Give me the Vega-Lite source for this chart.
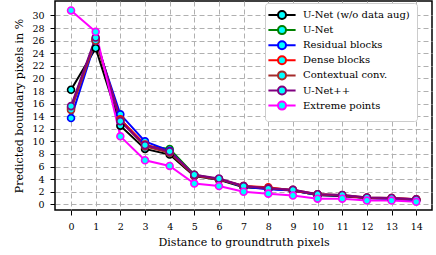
{
  "$schema": "https://vega.github.io/schema/vega-lite/v6.json",
  "width": 377,
  "height": 209,
  "autosize": {"type": "none"},
  "padding": {"left": 55, "top": 1, "right": 4, "bottom": 45},
  "config": {
    "font": "DejaVu Serif",
    "view": {"stroke": "black", "strokeWidth": 1.5},
    "axis": {
      "labelFont": "DejaVu Serif", "titleFont": "DejaVu Serif",
      "labelFontSize": 9.5, "titleFontSize": 11, "titleFontWeight": "normal",
      "labelColor": "black", "titleColor": "black",
      "grid": true, "gridColor": "#b0b0b0", "gridDash": [5, 3], "gridWidth": 1,
      "ticks": true, "tickSize": 5, "tickColor": "black", "tickWidth": 1, "domain": false
    },
    "legend": {"labelFont": "DejaVu Serif", "labelFontSize": 10, "labelColor": "black"}
  },
  "data": {"values": [
    {"d":0,"s":"U-Net (w/o data aug)","v":18.2},{"d":1,"s":"U-Net (w/o data aug)","v":24.8},{"d":2,"s":"U-Net (w/o data aug)","v":12.5},{"d":3,"s":"U-Net (w/o data aug)","v":8.8},{"d":4,"s":"U-Net (w/o data aug)","v":7.9},{"d":5,"s":"U-Net (w/o data aug)","v":4.5},{"d":6,"s":"U-Net (w/o data aug)","v":3.9},{"d":7,"s":"U-Net (w/o data aug)","v":2.7},{"d":8,"s":"U-Net (w/o data aug)","v":2.5},{"d":9,"s":"U-Net (w/o data aug)","v":2.2},{"d":10,"s":"U-Net (w/o data aug)","v":1.5},{"d":11,"s":"U-Net (w/o data aug)","v":1.3},{"d":12,"s":"U-Net (w/o data aug)","v":1.0},{"d":13,"s":"U-Net (w/o data aug)","v":0.9},{"d":14,"s":"U-Net (w/o data aug)","v":0.7},
    {"d":0,"s":"U-Net","v":15.4},{"d":1,"s":"U-Net","v":26.3},{"d":2,"s":"U-Net","v":13.5},{"d":3,"s":"U-Net","v":9.3},{"d":4,"s":"U-Net","v":8.8},{"d":5,"s":"U-Net","v":4.7},{"d":6,"s":"U-Net","v":4.0},{"d":7,"s":"U-Net","v":2.8},{"d":8,"s":"U-Net","v":2.5},{"d":9,"s":"U-Net","v":2.2},{"d":10,"s":"U-Net","v":1.5},{"d":11,"s":"U-Net","v":1.4},{"d":12,"s":"U-Net","v":1.0},{"d":13,"s":"U-Net","v":0.9},{"d":14,"s":"U-Net","v":0.7},
    {"d":0,"s":"Residual blocks","v":13.7},{"d":1,"s":"Residual blocks","v":26.0},{"d":2,"s":"Residual blocks","v":14.3},{"d":3,"s":"Residual blocks","v":10.0},{"d":4,"s":"Residual blocks","v":8.5},{"d":5,"s":"Residual blocks","v":4.6},{"d":6,"s":"Residual blocks","v":4.0},{"d":7,"s":"Residual blocks","v":2.8},{"d":8,"s":"Residual blocks","v":2.4},{"d":9,"s":"Residual blocks","v":2.2},{"d":10,"s":"Residual blocks","v":1.5},{"d":11,"s":"Residual blocks","v":1.4},{"d":12,"s":"Residual blocks","v":1.0},{"d":13,"s":"Residual blocks","v":0.9},{"d":14,"s":"Residual blocks","v":0.7},
    {"d":0,"s":"Dense blocks","v":15.2},{"d":1,"s":"Dense blocks","v":26.2},{"d":2,"s":"Dense blocks","v":13.5},{"d":3,"s":"Dense blocks","v":9.5},{"d":4,"s":"Dense blocks","v":8.3},{"d":5,"s":"Dense blocks","v":4.6},{"d":6,"s":"Dense blocks","v":4.0},{"d":7,"s":"Dense blocks","v":2.9},{"d":8,"s":"Dense blocks","v":2.7},{"d":9,"s":"Dense blocks","v":2.2},{"d":10,"s":"Dense blocks","v":1.6},{"d":11,"s":"Dense blocks","v":1.4},{"d":12,"s":"Dense blocks","v":1.0},{"d":13,"s":"Dense blocks","v":1.0},{"d":14,"s":"Dense blocks","v":0.8},
    {"d":0,"s":"Contextual conv.","v":15.0},{"d":1,"s":"Contextual conv.","v":26.0},{"d":2,"s":"Contextual conv.","v":13.3},{"d":3,"s":"Contextual conv.","v":9.2},{"d":4,"s":"Contextual conv.","v":8.2},{"d":5,"s":"Contextual conv.","v":4.6},{"d":6,"s":"Contextual conv.","v":4.0},{"d":7,"s":"Contextual conv.","v":2.9},{"d":8,"s":"Contextual conv.","v":2.6},{"d":9,"s":"Contextual conv.","v":2.3},{"d":10,"s":"Contextual conv.","v":1.6},{"d":11,"s":"Contextual conv.","v":1.5},{"d":12,"s":"Contextual conv.","v":1.1},{"d":13,"s":"Contextual conv.","v":1.0},{"d":14,"s":"Contextual conv.","v":0.8},
    {"d":0,"s":"U-Net++","v":15.6},{"d":1,"s":"U-Net++","v":26.5},{"d":2,"s":"U-Net++","v":13.2},{"d":3,"s":"U-Net++","v":9.4},{"d":4,"s":"U-Net++","v":8.4},{"d":5,"s":"U-Net++","v":4.7},{"d":6,"s":"U-Net++","v":4.1},{"d":7,"s":"U-Net++","v":2.9},{"d":8,"s":"U-Net++","v":2.5},{"d":9,"s":"U-Net++","v":2.3},{"d":10,"s":"U-Net++","v":1.6},{"d":11,"s":"U-Net++","v":1.5},{"d":12,"s":"U-Net++","v":1.1},{"d":13,"s":"U-Net++","v":1.0},{"d":14,"s":"U-Net++","v":0.8},
    {"d":0,"s":"Extreme points","v":30.8},{"d":1,"s":"Extreme points","v":27.4},{"d":2,"s":"Extreme points","v":10.8},{"d":3,"s":"Extreme points","v":7.0},{"d":4,"s":"Extreme points","v":6.1},{"d":5,"s":"Extreme points","v":3.3},{"d":6,"s":"Extreme points","v":2.9},{"d":7,"s":"Extreme points","v":2.0},{"d":8,"s":"Extreme points","v":1.7},{"d":9,"s":"Extreme points","v":1.4},{"d":10,"s":"Extreme points","v":0.9},{"d":11,"s":"Extreme points","v":0.9},{"d":12,"s":"Extreme points","v":0.6},{"d":13,"s":"Extreme points","v":0.6},{"d":14,"s":"Extreme points","v":0.4}
  ]},
  "encoding": {
    "x": {"field": "d", "type": "quantitative",
      "scale": {"domain": [-0.65, 14.64], "nice": false, "zero": false},
      "axis": {"values": [0,1,2,3,4,5,6,7,8,9,10,11,12,13,14], "format": "d", "title": "Distance to groundtruth pixels", "labelPadding": 6, "titlePadding": 6}},
    "y": {"field": "v", "type": "quantitative",
      "scale": {"domain": [-0.9, 32.3], "nice": false, "zero": false},
      "axis": {"values": [0,2,4,6,8,10,12,14,16,18,20,22,24,26,28,30], "title": "Predicted boundary pixels in %", "labelPadding": 6, "titlePadding": 7}},
    "stroke": {"field": "s", "type": "nominal",
      "scale": {
        "domain": ["U-Net (w/o data aug)", "U-Net", "Residual blocks", "Dense blocks", "Contextual conv.", "U-Net++", "Extreme points"],
        "range": ["#000000", "#008000", "#0000ff", "#ff0000", "#a52a2a", "#800080", "#ff00ff"]},
      "legend": {
        "title": null, "orient": "none", "legendX": 210, "legendY": 2,
        "fillColor": "white", "strokeColor": "#cccccc", "cornerRadius": 3, "padding": 7,
        "symbolType": "M -3.4 0 L -1 0 M 1 0 L 3.4 0 M -1 0 A 1 1 0 1 0 1 0 A 1 1 0 1 0 -1 0 Z",
        "symbolSize": 64, "symbolStrokeWidth": 2, "symbolFillColor": "#00ffff", "symbolOffset": 5, "labelOffset": 16, "rowPadding": -0.9,
        "symbolOpacity": 1
      }}
  },
  "layer": [
    {"mark": {"type": "line", "strokeWidth": 2}},
    {"mark": {"type": "point", "filled": false, "fill": "#00ffff", "fillOpacity": 1, "opacity": 1, "size": 48, "strokeWidth": 1.6}}
  ]
}
